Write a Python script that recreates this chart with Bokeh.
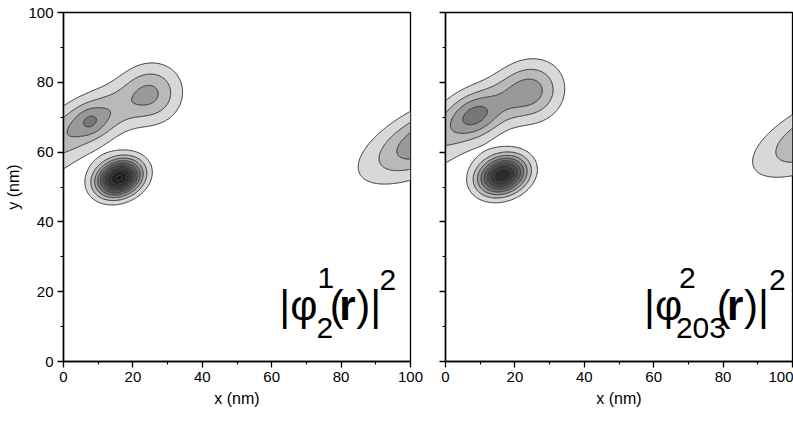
import numpy as np
from bokeh.plotting import figure
from bokeh.layouts import row
from bokeh.models import FixedTicker, Label
from bokeh.embed import file_html
from bokeh.resources import INLINE

# ---------------- data ----------------
major_ticks = [0, 20, 40, 60, 80, 100]
minor_ticks = [10, 30, 50, 70, 90]
x_label = "x (nm)"
y_label = "y (nm)"

# contour levels (equal steps) and grey fills for the bands between them
levels = [1, 2, 3, 4, 5, 6, 7, 8, 9, 10, 11]
gray_fills = ["#d8d8d8", "#b9b9b9", "#999999", "#777777", "#5f5f5f",
              "#4b4b4b", "#3a3a3a", "#2c2c2c", "#212121", "#181818"]

# density lobes: amplitude, centre x, centre y,
# spread along / across the lobe axis (nm), axis angle (deg)
# lobes: peak A, core of A, tail of A, peak B, upper ridge, small dot, edge lobe
left_amp = [2.9, 0.8, 1.4, 2.7, 0.6, 10.2, 4.0]
left_cx = [7.5, 7.8, -5.0, 25.5, 14.0, 16.0, 105.4]
left_cy = [68.5, 68.8, 58.5, 76.5, 75.0, 52.6, 64.0]
left_su = [9.0, 2.5, 8.0, 6.0, 12.0, 4.6, 13.5]
left_sv = [4.6, 2.5, 5.5, 5.8, 5.0, 3.4, 5.6]
left_ang = [24, 0, 30, 20, 24, 22, 27]

right_amp = [3.0, 0.85, 1.3, 2.9, 0.7, 9.0, 3.3]
right_cx = [8.5, 8.3, -4.5, 25.0, 14.0, 16.4, 107.5]
right_cy = [70.2, 70.2, 60.0, 77.2, 76.5, 53.4, 65.0]
right_su = [8.5, 4.0, 8.0, 6.2, 12.0, 4.95, 13.5]
right_sv = [4.6, 4.0, 5.5, 5.8, 5.0, 3.6, 5.6]
right_ang = [24, 0, 30, 20, 24, 20, 27]

grid_x = np.linspace(0, 100, 401)
grid_y = np.linspace(0, 100, 401)


def density(amp, cx, cy, su, sv, ang):
    X, Y = np.meshgrid(grid_x, grid_y)
    Z = np.zeros_like(X)
    for a, x0, y0, s1, s2, t in zip(amp, cx, cy, su, sv, ang):
        th = np.deg2rad(t)
        dx, dy = X - x0, Y - y0
        u = dx * np.cos(th) + dy * np.sin(th)
        v = -dx * np.sin(th) + dy * np.cos(th)
        Z += a * np.exp(-u ** 2 / (2 * s1 ** 2) - v ** 2 / (2 * s2 ** 2))
    return Z


FONT = "Liberation Sans"


def make_panel(width, border_left, border_right, show_ylabels):
    p = figure(width=width, height=416, x_range=(0, 100), y_range=(0, 100),
               output_backend="svg", toolbar_location=None,
               min_border_left=border_left, min_border_right=border_right,
               min_border_top=12, min_border_bottom=55)
    p.background_fill_color = "white"
    p.border_fill_color = "white"
    p.grid.visible = False
    p.outline_line_color = "black"
    p.outline_line_width = 1.3
    for ax in (p.xaxis[0], p.yaxis[0]):
        ax.ticker = FixedTicker(ticks=major_ticks, minor_ticks=minor_ticks)
        ax.axis_line_width = 1.5
        ax.axis_line_color = "black"
        ax.major_tick_line_color = "black"
        ax.major_tick_line_width = 1.3
        ax.minor_tick_line_color = "black"
        ax.minor_tick_line_width = 1.1
        ax.major_tick_in = 0
        ax.major_tick_out = 6
        ax.minor_tick_in = 0
        ax.minor_tick_out = 3
        ax.major_label_text_font = FONT
        ax.major_label_text_font_size = "15px"
        ax.major_label_text_color = "black"
        ax.major_label_standoff = 4
        ax.axis_label_text_font = FONT
        ax.axis_label_text_font_size = "16px"
        ax.axis_label_text_font_style = "normal"
        ax.axis_label_text_color = "black"
    p.xaxis.axis_label = x_label
    p.xaxis.axis_label_standoff = 5
    if show_ylabels:
        p.yaxis.axis_label = y_label
        p.yaxis.axis_label_standoff = 3
    else:
        p.yaxis.major_label_overrides = {t: "" for t in major_ticks}
        p.yaxis.major_label_standoff = 0
    return p


def add_title(p, pieces):
    for txt, x, y, size, style in pieces:
        p.add_layout(Label(x=x, y=y, text=txt, text_font=FONT,
                           text_font_size=size, text_font_style=style,
                           text_color="black", text_align="left",
                           text_baseline="alphabetic"))


p1 = make_panel(427, 63, 17, True)
p1.contour(grid_x, grid_y, density(left_amp, left_cx, left_cy, left_su, left_sv, left_ang),
           levels, fill_color=gray_fills, line_color="#333333", line_width=1)
add_title(p1, [("|φ", 62.2, 16.0, "42px", "normal"),
               ("1", 73.2, 24.0, "30px", "normal"),
               ("2", 72.9, 9.7, "30px", "normal"),
               ("(", 76.7, 16.0, "42px", "normal"),
               ("r", 79.5, 16.0, "42px", "bold"),
               (")|", 84.4, 16.0, "42px", "normal"),
               ("2", 91.1, 23.4, "30px", "normal")])

p2 = make_panel(366, 18, 1, False)
p2.contour(grid_x, grid_y, density(right_amp, right_cx, right_cy, right_su, right_sv, right_ang),
           levels, fill_color=gray_fills, line_color="#333333", line_width=1)
add_title(p2, [("|φ", 57.2, 16.0, "42px", "normal"),
               ("2", 67.3, 24.0, "30px", "normal"),
               ("203", 66.4, 9.7, "30px", "normal"),
               ("(", 78.2, 16.0, "42px", "normal"),
               ("r", 81.1, 16.0, "42px", "bold"),
               (")|", 86.0, 16.0, "42px", "normal"),
               ("2", 93.2, 23.4, "30px", "normal")])

layout = row(p1, p2)
open("out.html", "w").write(file_html(layout, INLINE))
